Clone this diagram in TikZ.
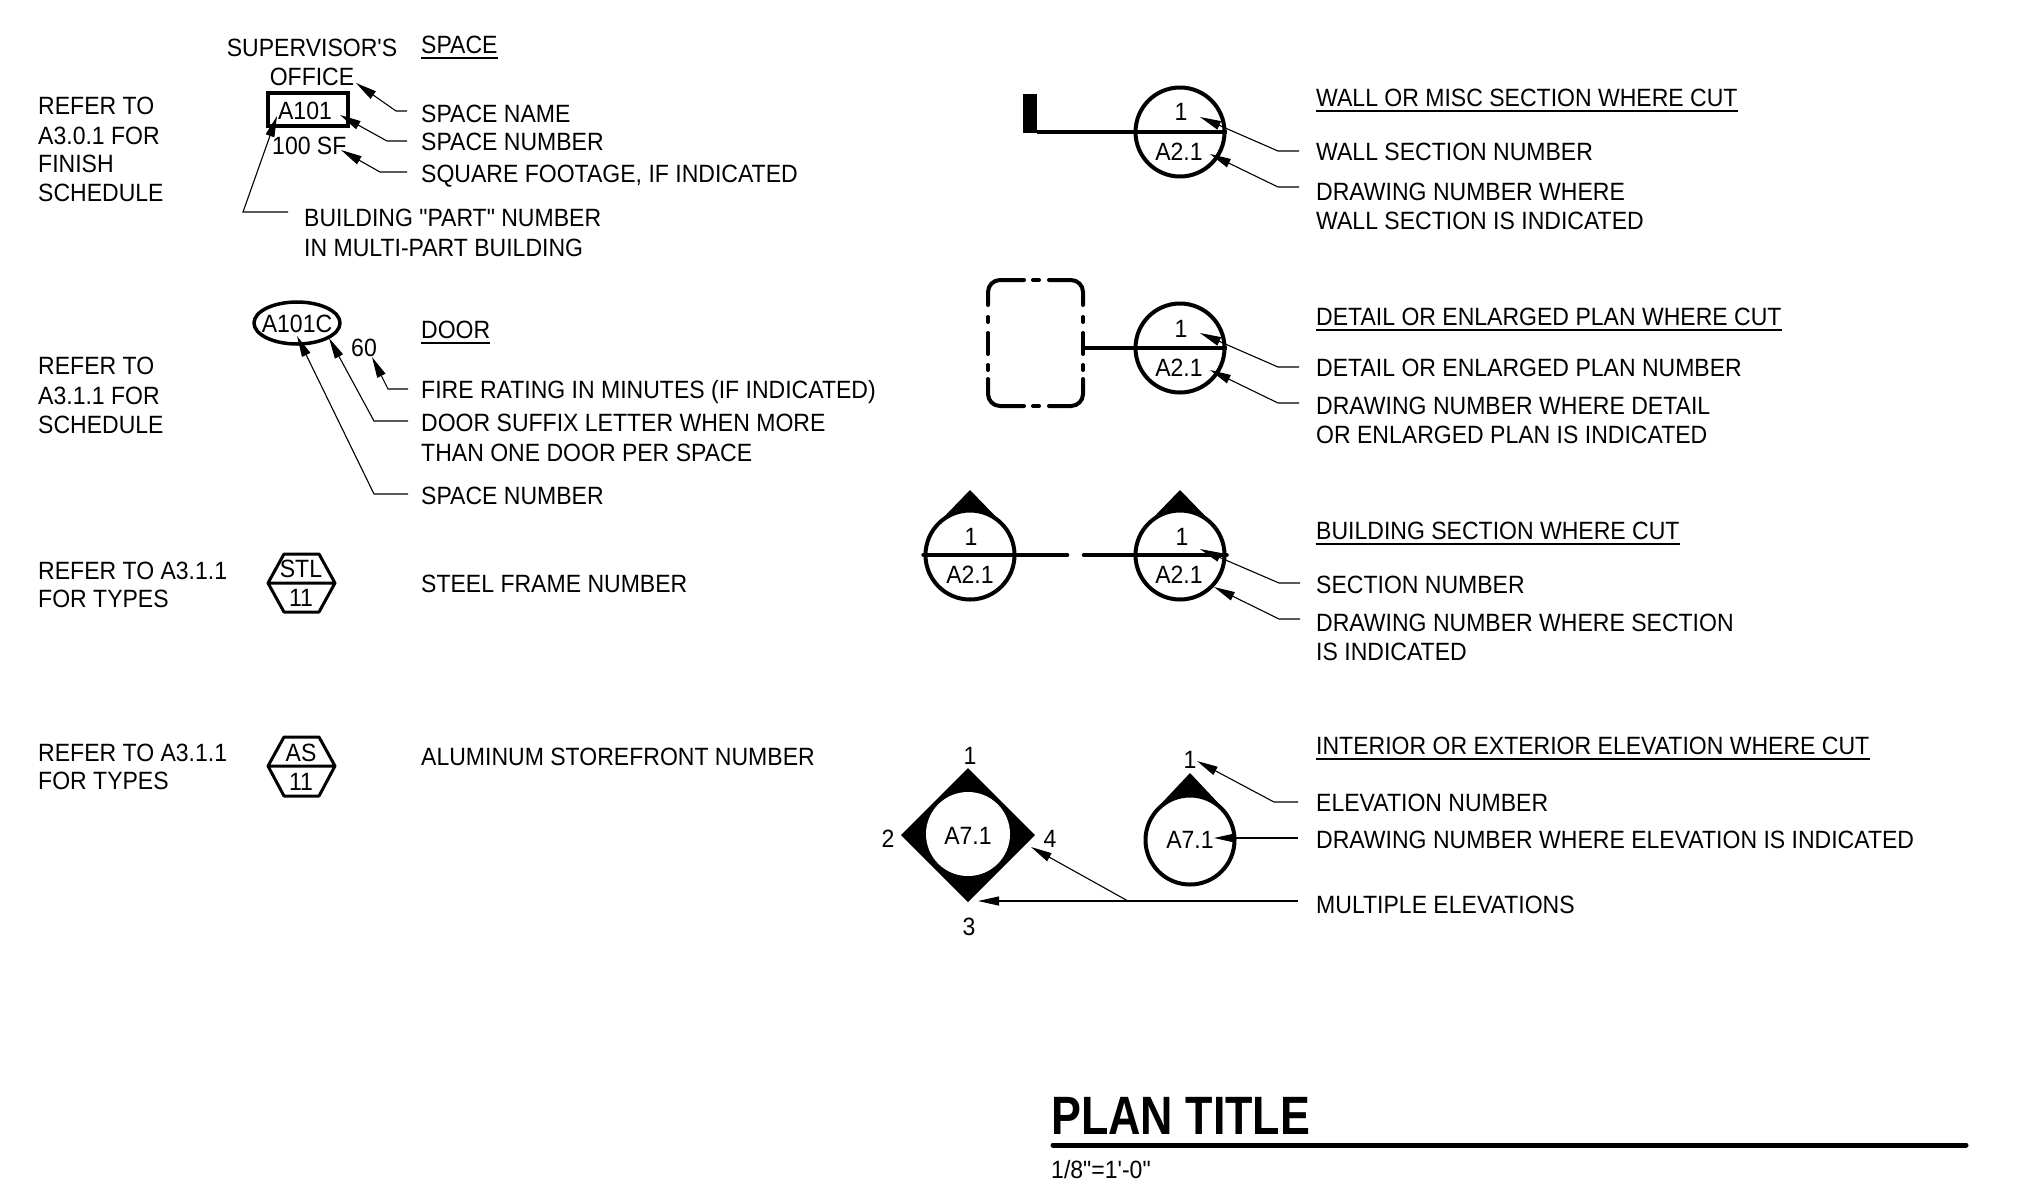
\documentclass[tikz,border=0pt]{standalone}
\usepackage{fontspec}
\setmainfont{Liberation Sans}[FakeStretch=0.921, Ligatures=TeXOff]
\newfontfamily\titlefont{Liberation Sans}[FakeStretch=0.83, Ligatures=TeXOff]
\usetikzlibrary{arrows.meta,shapes.geometric}
\tikzset{
  every node/.style={font=\fontsize{25}{30}\selectfont, inner sep=0pt},
  lbl/.style={anchor=west, text height=18pt, text depth=0pt},
  mid/.style={anchor=base},
  leader/.style={line width=1.1pt, -{Triangle[length=21pt,width=9pt]}},
  heavy/.style={line width=4.5pt},
  bubble/.style={circle, draw, fill=white, line width=4pt, minimum size=89pt},
  hexa/.style={line width=3pt, line join=round},
  broken/.style={line width=4pt, line cap=round},
}
\begin{document}
\begin{tikzpicture}[x=1pt, y=-1pt]
  \useasboundingbox (0,0) rectangle (2017,1195);
  % left column notes
  \node[lbl] at (38,105) {REFER TO};
  \node[lbl] at (38,135) {A3.0.1 FOR};
  \node[lbl] at (38,163) {FINISH};
  \node[lbl] at (38,192) {SCHEDULE};
  \node[lbl] at (38,365) {REFER TO};
  \node[lbl] at (38,395) {A3.1.1 FOR};
  \node[lbl] at (38,424) {SCHEDULE};
  \node[lbl] at (38,570) {REFER TO A3.1.1};
  \node[lbl] at (38,598) {FOR TYPES};
  \node[lbl] at (38,752) {REFER TO A3.1.1};
  \node[lbl] at (38,780) {FOR TYPES};
  % space tag
  \node[mid] (super) at (312,56) {SUPERVISOR'S};
  \node[mid] (office) at (312,85) {OFFICE};
  \node[draw, line width=4pt, minimum width=80pt, minimum height=33pt] (spacebox) at (308,109) {};
  \node[mid] (spacenum) at (305,119) {A101};
  \node[anchor=base west] (sqft) at (272,154) {100 SF};
  \node[lbl] (hspace) at (421,44) {SPACE};
  \node[lbl] (lname) at (421,113) {SPACE NAME};
  \node[lbl] (lnumber) at (421,141) {SPACE NUMBER};
  \node[lbl] (lsquare) at (421,173) {SQUARE FOOTAGE, IF INDICATED};
  \node[lbl] (lpart) at (304,217) {BUILDING "PART" NUMBER};
  \node[lbl] at (304,247) {IN MULTI-PART BUILDING};
  \coordinate (tname) at (356,83);
  \coordinate (tnumber) at (340,115);
  \coordinate (tsquare) at (341,150);
  \coordinate (tpart) at (277,116);
  \draw[leader] ([xshift=-14pt,yshift=2pt]lname.west) -- ++(-11,0) -- (tname);
  \draw[leader] ([xshift=-14pt]lnumber.west) -- ++(-20,0) -- (tnumber);
  \draw[leader] ([xshift=-14pt,yshift=1pt]lsquare.west) -- ++(-27,0) -- (tsquare);
  \draw[leader] ([xshift=-16pt,yshift=5pt]lpart.west) -- ++(-45,0) -- (tpart);
  % door tag
  \node[ellipse, draw, line width=3.5pt, minimum width=86pt, minimum height=42pt] (doortag) at (297,323) {};
  \node[mid] (doornum) at (297,332) {A101C};
  \node[mid] (rating) at (364,356) {60};
  \node[lbl] (hdoor) at (421,329) {DOOR};
  \node[lbl] (lfire) at (421,389) {FIRE RATING IN MINUTES (IF INDICATED)};
  \node[lbl] (lsuffix) at (421,422) {DOOR SUFFIX LETTER WHEN MORE};
  \node[lbl] at (421,452) {THAN ONE DOOR PER SPACE};
  \node[lbl] (ldoorspace) at (421,495) {SPACE NUMBER};
  \coordinate (tfire) at (372,357);
  \coordinate (tsuffix) at (329,338);
  \coordinate (tdoorspace) at (297,336);
  \draw[leader] ([xshift=-13pt]lfire.west) -- ++(-20,0) -- (tfire);
  \draw[leader] ([xshift=-13pt,yshift=1pt]lsuffix.west) -- ++(-34,0) -- (tsuffix);
  \draw[leader] ([xshift=-13pt,yshift=1pt]ldoorspace.west) -- ++(-34,0) -- (tdoorspace);
  % frame tags
  \draw[hexa] (268,583) -- (284,554) -- (319,554) -- (335,583) -- (319,612) -- (284,612) -- cycle (268,583) -- (335,583);
  \node[mid] (stl) at (301,577) {STL};
  \node[mid] (stlnum) at (301,606) {11};
  \node[lbl] (lsteel) at (421,583) {STEEL FRAME NUMBER};
  \draw[hexa] (268,766) -- (284,737) -- (319,737) -- (335,766) -- (319,796) -- (284,796) -- cycle (268,766) -- (335,766);
  \node[mid] (alum) at (301,761) {AS};
  \node[mid] (alumnum) at (301,790) {11};
  \node[lbl] (lalum) at (421,756) {ALUMINUM STOREFRONT NUMBER};
  % wall section
  \fill (1023,94) rectangle (1037,133);
  \node[bubble] (wallcut) at (1180,132) {};
  \draw[heavy] (1037,132) -- (wallcut.center) -- (wallcut.east);
  \node[mid] (wallno) at (1181,120) {1};
  \node[mid] (wallsh) at (1179,160) {A2.1};
  \node[lbl] (hwall) at (1316,97) {WALL OR MISC SECTION WHERE CUT};
  \node[lbl] (lwall) at (1316,151) {WALL SECTION NUMBER};
  \node[lbl] (lwallsh) at (1316,191) {DRAWING NUMBER WHERE};
  \node[lbl] at (1316,220) {WALL SECTION IS INDICATED};
  \coordinate (twall) at (1200,117);
  \coordinate (twallsh) at (1210,154);
  \draw[leader] ([xshift=-17pt]lwall.west) -- ++(-21,0) -- (twall);
  \draw[leader] ([xshift=-17pt,yshift=4pt]lwallsh.west) -- ++(-21,0) -- (twallsh);
  % detail
  \draw[broken, rounded corners=12pt] (988,305) |- (1024,280);
  \draw[broken, rounded corners=12pt] (1049,280) -| (1083,305);
  \draw[broken, rounded corners=12pt] (988,379) |- (1024,406);
  \draw[broken, rounded corners=12pt] (1049,406) -| (1083,379);
  \foreach \x in {988,1083}
    \foreach \ya/\yb in {317/322, 333/354, 365/370}
      \draw[broken] (\x,\ya) -- (\x,\yb);
  \foreach \y in {280,406}
    \draw[broken] (1033,\y) -- (1039,\y);
  \node[bubble] (detailcut) at (1180,348) {};
  \draw[heavy] (1085,348) -- (detailcut.center) -- (detailcut.east);
  \node[mid] (detailno) at (1181,337) {1};
  \node[mid] (detailsh) at (1179,376) {A2.1};
  \node[lbl] (hdetail) at (1316,316) {DETAIL OR ENLARGED PLAN WHERE CUT};
  \node[lbl] (ldetail) at (1316,367) {DETAIL OR ENLARGED PLAN NUMBER};
  \node[lbl] (ldetailsh) at (1316,405) {DRAWING NUMBER WHERE DETAIL};
  \node[lbl] at (1316,434) {OR ENLARGED PLAN IS INDICATED};
  \coordinate (tdetail) at (1200,333);
  \coordinate (tdetailsh) at (1210,370);
  \draw[leader] ([xshift=-17pt]ldetail.west) -- ++(-21,0) -- (tdetail);
  \draw[leader] ([xshift=-17pt,yshift=2pt]ldetailsh.west) -- ++(-21,0) -- (tdetailsh);
  % building section
  \foreach \x in {970,1180}
    \fill (\x,490) -- (\x+32,523) -- (\x-32,523) -- cycle;
  \node[bubble] (seca) at (970,555) {};
  \node[bubble] (secb) at (1180,555) {};
  \draw[heavy, line cap=round] (seca.west) -- (1067,555);
  \draw[heavy, line cap=round] (1084,555) -- (secb.east);
  \node[mid] (secano) at (971,545) {1};
  \node[mid] (secash) at (970,583) {A2.1};
  \node[mid] (secbno) at (1182,545) {1};
  \node[mid] (secbsh) at (1179,583) {A2.1};
  \node[lbl] (hsec) at (1316,530) {BUILDING SECTION WHERE CUT};
  \node[lbl] (lsec) at (1316,584) {SECTION NUMBER};
  \node[lbl] (lsecsh) at (1316,622) {DRAWING NUMBER WHERE SECTION};
  \node[lbl] at (1316,651) {IS INDICATED};
  \coordinate (tsec) at (1200,549);
  \coordinate (tsecsh) at (1214,587);
  \draw[leader] ([xshift=-16pt,yshift=1pt]lsec.west) -- ++(-21,0) -- (tsec);
  \draw[leader] ([xshift=-16pt,yshift=3pt]lsecsh.west) -- ++(-21,0) -- (tsecsh);
  % elevations
  \fill (968,768) -- (1035,835) -- (968,902) -- (901,835) -- cycle;
  \node[circle, fill=white, minimum size=84pt] (multi) at (968,834) {};
  \node[mid] (multish) at (968,844) {A7.1};
  \node[mid] (mone) at (970,764) {1};
  \node[mid] (mtwo) at (888,847) {2};
  \node[mid] (mfour) at (1050,847) {4};
  \node[mid] (mthree) at (969,935) {3};
  \fill (1190,773) -- (1222,807) -- (1158,807) -- cycle;
  \node[bubble] (elev) at (1190,840) {};
  \node[mid] (elevsh) at (1190,848) {A7.1};
  \node[mid] (elevno) at (1190,768) {1};
  \node[lbl] (helev) at (1316,745) {INTERIOR OR EXTERIOR ELEVATION WHERE CUT};
  \node[lbl] (lelev) at (1316,802) {ELEVATION NUMBER};
  \node[lbl] (lelevsh) at (1316,839) {DRAWING NUMBER WHERE ELEVATION IS INDICATED};
  \node[lbl] (lmulti) at (1316,904) {MULTIPLE ELEVATIONS};
  \coordinate (telev) at (1197,761);
  \coordinate (televsh) at (1214,838);
  \coordinate (tmulti) at (978,901);
  \coordinate (tfour) at (1031,847);
  \coordinate (split) at (1128,901);
  \draw[leader] ([xshift=-18pt]lelev.west) -- ++(-24,0) -- (telev);
  \draw[leader] ([xshift=-18pt,yshift=1pt]lelevsh.west) -- (televsh);
  \draw[leader] ([xshift=-18pt,yshift=3pt]lmulti.west) -- (tmulti);
  \draw[leader] (split) -- (tfour);
  % underlined headings
  \foreach \h in {hspace,hdoor,hwall,hdetail,hsec,helev}
    \draw[line width=1.8pt] ([yshift=-5pt]\h.south west) -- ([yshift=-5pt]\h.south east);
  % plan title
  \node[anchor=base west, font=\fontsize{54}{60}\selectfont\titlefont\bfseries] (title) at (1051,1134) {PLAN TITLE};
  \draw[line width=5pt, line cap=round] (1053,1145) -- (1966,1145);
  \node[anchor=base west] (scale) at (1051,1178) {1/8"=1'-0"};
\end{tikzpicture}
\end{document}
